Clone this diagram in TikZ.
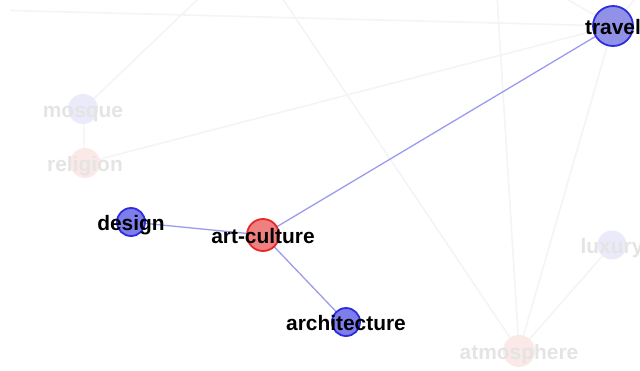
\documentclass[tikz,border=0pt]{standalone}
\usepackage{fontspec}
\setmainfont{Liberation Sans}
\definecolor{edgeblue}{RGB}{155,155,238}
\definecolor{faintedge}{RGB}{244,244,247}
\definecolor{travelfill}{RGB}{145,145,232}
\definecolor{bluefill}{RGB}{125,125,236}
\definecolor{blueline}{RGB}{45,45,222}
\definecolor{redfill}{RGB}{240,128,128}
\definecolor{redline}{RGB}{230,40,40}
\definecolor{fblue}{RGB}{234,234,250}
\definecolor{fred}{RGB}{251,233,231}
\definecolor{ftext}{RGB}{228,228,228}
\tikzset{
  x=1bp, y=-1bp,
  vtx/.style={circle, inner sep=0pt, minimum size=#1},
  strongv/.style={vtx=#1, line width=1.8bp},
  faintv/.style={vtx=#1, draw=none},
  lbl/.style={anchor=base, inner sep=0pt, font=\fontsize{21}{22}\selectfont\bfseries},
  flbl/.style={lbl, text=ftext},
  sedge/.style={draw=edgeblue, line width=1.3bp},
  fedge/.style={draw=faintedge, line width=1.6bp},
}
\begin{document}
\begin{tikzpicture}
\useasboundingbox (0,0) rectangle (640,370);
\clip (0,0) rectangle (640,370);
% vertices positions
\coordinate (pTravel) at (613,26);
\coordinate (pArt) at (263,235);
\coordinate (pDesign) at (131,222);
\coordinate (pArch) at (346,322);
\coordinate (pMosque) at (83,109);
\coordinate (pRel) at (85,163);
\coordinate (pAtm) at (519,351);
\coordinate (pLux) at (612,245);
% off-canvas ends
\coordinate (o1) at (10,10.5);
\coordinate (o2) at (218,-20);
\coordinate (o3) at (270,-20);
\coordinate (o4) at (496,-20);
\coordinate (o5) at (548,-12);
\coordinate (o6) at (650,-20);
% faint edges
\draw[fedge] (o1) -- (pTravel);
\draw[fedge] (pMosque) -- (o2);
\draw[fedge] (o3) -- (pAtm);
\draw[fedge] (o4) -- (pAtm);
\draw[fedge] (pTravel) -- (o5);
\draw[fedge] (pTravel) -- (o6);
\draw[fedge] (pRel) -- (pTravel);
\draw[fedge] (pMosque) -- (pRel);
\draw[fedge] (pTravel) -- (pAtm);
\draw[fedge] (pLux) -- (pAtm);
% faint vertices
\node[faintv=30bp, fill=fblue] (mosque) at (pMosque) {};
\node[faintv=30bp, fill=fred] (religion) at (pRel) {};
\node[faintv=32bp, fill=fred] (atmosphere) at (pAtm) {};
\node[faintv=29bp, fill=fblue] (luxury) at (pLux) {};
\node[flbl] (lmosque) at ([yshift=-8bp]pMosque) {mosque};
\node[flbl] (lreligion) at ([yshift=-8bp]pRel) {religion};
\node[flbl] (latmosphere) at ([yshift=-8bp]pAtm) {atmosphere};
\node[flbl] (lluxury) at ([yshift=-8bp]pLux) {luxury};
% strong edges
\draw[sedge] (pArt) -- (pTravel);
\draw[sedge] (pArt) -- (pDesign);
\draw[sedge] (pArt) -- (pArch);
% strong vertices
\node[strongv=40bp, draw=blueline, fill=travelfill] (travel) at (pTravel) {};
\node[strongv=28bp, draw=blueline, fill=bluefill] (design) at (pDesign) {};
\node[strongv=28bp, draw=blueline, fill=bluefill] (architecture) at (pArch) {};
\node[strongv=32bp, draw=redline, fill=redfill] (artculture) at (pArt) {};
\node[lbl] (ltravel) at ([yshift=-8bp]pTravel) {travel};
\node[lbl] (ldesign) at ([yshift=-8bp]pDesign) {design};
\node[lbl] (larch) at ([yshift=-8bp]pArch) {architecture};
\node[lbl] (lart) at ([yshift=-8bp]pArt) {art-culture};
\end{tikzpicture}
\end{document}
